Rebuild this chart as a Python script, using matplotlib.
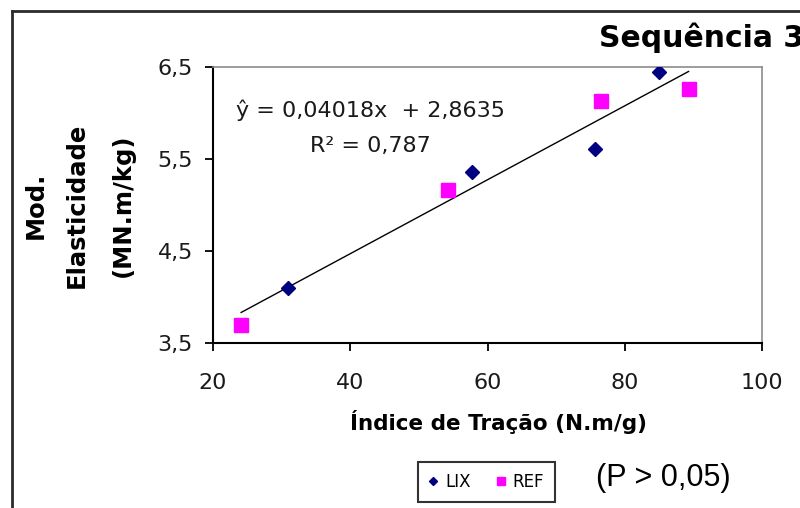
import matplotlib
matplotlib.use("Agg")
import matplotlib.pyplot as plt
from matplotlib.lines import Line2D

# Series: tensile index (N.m/g) vs. specific modulus (MN.m/kg)
lix_x = [30.9, 57.7, 75.6, 85.0]
lix_y = [4.10, 5.36, 5.61, 6.45]
ref_x = [24.1, 54.2, 76.5, 89.3]
ref_y = [3.70, 5.16, 6.13, 6.26]

# Linear fit reported on the chart
slope = 0.04018
intercept = 2.8635
r2 = 0.787

x_ticks = [20, 40, 60, 80, 100]
y_ticks = [3.5, 4.5, 5.5, 6.5]
y_tick_labels = ["3,5", "4,5", "5,5", "6,5"]

W, H = 800, 508
fig = plt.figure(figsize=(W / 100, H / 100), dpi=100)
fig.patch.set_facecolor("white")


def fx(px):
    return px / W


def fy(py):
    return 1 - py / H


ax = fig.add_axes([fx(213), fy(343), fx(762) - fx(213), fy(67) - fy(343)])
ax.set_xlim(20, 100)
ax.set_ylim(3.5, 6.5)

# trend line over the data range
x0 = min(lix_x + ref_x)
x1 = max(lix_x + ref_x)
ax.plot([x0, x1], [slope * x0 + intercept, slope * x1 + intercept],
        color="black", lw=1.0, zorder=2)

ax.plot(lix_x, lix_y, linestyle="none", marker="D", markersize=7.5,
        color="#000080", label="LIX", zorder=3)
ax.plot(ref_x, ref_y, linestyle="none", marker="s", markersize=10.5,
        color="#FF00FF", label="REF", zorder=3)

ax.set_xticks(x_ticks)
ax.set_xticklabels([str(v) for v in x_ticks])
ax.set_yticks(y_ticks)
ax.set_yticklabels(y_tick_labels)

for side in ("left", "bottom"):
    ax.spines[side].set_color("black")
    ax.spines[side].set_linewidth(1.5)
for side in ("top", "right"):
    ax.spines[side].set_color("#8c8c8c")
    ax.spines[side].set_linewidth(1.2)

ax.tick_params(axis="both", direction="out", length=5.5, width=1.3,
               color="black", labelcolor="#1a1a1a", labelsize=16,
               labelfontfamily="DejaVu Sans")
ax.tick_params(axis="x", pad=16)
ax.tick_params(axis="y", pad=9)

# regression annotation
eq_font = dict(family="DejaVu Sans", fontsize=16, color="#1a1a1a",
               ha="center", va="center")
ax.text(42.9, 6.03, "ŷ = 0,04018x  + 2,8635", **eq_font)
ax.text(42.9, 5.64, "R² = {:.3f}".format(r2).replace(".", ","), **eq_font)

# axis titles
fig.text(fx(499), fy(422), "Índice de Tração (N.m/g)", family="DejaVu Sans",
         fontweight="bold", fontsize=15.5, ha="center", va="center")
for px, line in [(36, "Mod."), (77, "Elasticidade"), (123, "(MN.m/kg)")]:
    fig.text(fx(px), fy(205), line, family="DejaVu Sans", fontweight="bold",
             fontsize=17.5, rotation=90, ha="center", va="center")

# chart title
fig.text(fx(599), fy(47), "Sequência 3", family="DejaVu Sans",
         fontweight="bold", fontsize=21.5, ha="left", va="baseline")

# legend
leg = fig.legend(handles=ax.get_lines()[1:], labels=["LIX", "REF"],
                 loc="center", bbox_to_anchor=(fx(486), fy(482)),
                 ncol=2, frameon=True, fancybox=False, markerscale=0.6,
                 handlelength=0.6, handletextpad=0.4, columnspacing=1.5,
                 borderpad=0.65, borderaxespad=0,
                 prop=dict(family="DejaVu Sans", size=12))
leg.get_frame().set_edgecolor("black")
leg.get_frame().set_linewidth(1.5)

fig.text(fx(596), fy(478), "(P > 0,05)", family="Liberation Sans",
         fontsize=22, ha="left", va="center")

# outer chart border (left and top edges)
fig.add_artist(Line2D([fx(12), fx(12)], [fy(11), 0], transform=fig.transFigure,
                      color="#2b2b2b", lw=2))
fig.add_artist(Line2D([fx(12), 1], [fy(11), fy(11)], transform=fig.transFigure,
                      color="#2b2b2b", lw=2))

fig.savefig("out.png", dpi=100, facecolor="white")
